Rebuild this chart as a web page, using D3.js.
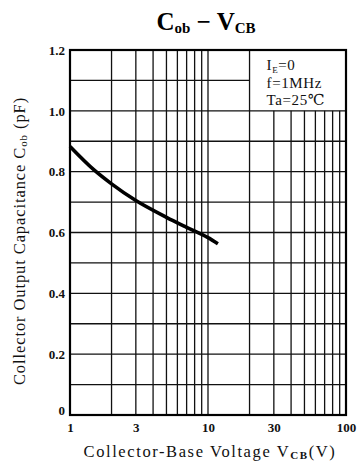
<!DOCTYPE html>
<html>
<head>
<meta charset="utf-8">
<script src="https://cdn.jsdelivr.net/npm/d3@7"></script>
<style>
  html, body { margin: 0; padding: 0; background: #fff; }
  svg { display: block; font-family: "Liberation Serif", "DejaVu Serif", serif; }
</style>
</head>
<body>
<div id="chart"></div>
<script>
// curve
const vcb = [1, 1.5, 2, 3, 5, 7, 10, 11.8];
const cob = [0.883, 0.805, 0.76, 0.705, 0.65, 0.617, 0.583, 0.563];

const xTicks = [1, 3, 10, 30, 100];
const yTicks = [0, 0.2, 0.4, 0.6, 0.8, 1.0, 1.2];
const xGrid = [2, 3, 4, 5, 6, 7, 8, 9, 10, 20, 30, 40, 50, 60, 70, 80, 90];
const yGrid = [0.1, 0.2, 0.3, 0.4, 0.5, 0.6, 0.7, 0.8, 0.9, 1.0, 1.1];
const conditions = [['I', 'E', '=0'], ['f=1MHz', '', ''], ['Ta=25℃', '', '']];

const W = 359, H = 467;
const margin = { top: 50, right: 13, bottom: 52, left: 70 };
const w = W - margin.left - margin.right;
const h = H - margin.top - margin.bottom;

const svg = d3.select('#chart').append('svg').attr('width', W).attr('height', H);
const g = svg.append('g').attr('transform', `translate(${margin.left},${margin.top})`);

const x = d3.scaleLog().domain([1, 100]).range([0, w]);
const y = d3.scaleLinear().domain([0, 1.2]).range([h, 0]);

// legend box sits in the top-right corner, grid is hidden behind it
const boxX = x(20), boxY = y(1.0);

g.selectAll('.vgrid').data(xGrid).join('line').attr('class', 'vgrid')
  .attr('x1', d => x(d)).attr('x2', d => x(d))
  .attr('y1', d => d > 20 ? boxY : 0).attr('y2', h)
  .attr('stroke', '#111').attr('stroke-width', 1.3);

g.selectAll('.hgrid').data(yGrid).join('line').attr('class', 'hgrid')
  .attr('x1', 0).attr('x2', d => d > 1.0 ? boxX : w)
  .attr('y1', d => y(d)).attr('y2', d => y(d))
  .attr('stroke', '#111').attr('stroke-width', 1.3);

// frame
g.append('rect').attr('width', w).attr('height', h)
  .attr('fill', 'none').attr('stroke', '#000').attr('stroke-width', 2.2);

// conditions text
const cond = g.append('g').attr('transform', `translate(${x(20) + 17},0)`)
  .style('font-size', '15px').style('fill', '#111');
conditions.forEach((c, i) => {
  const t = cond.append('text').attr('y', 20 + i * 17.5).style('letter-spacing', '0.6px');
  t.append('tspan').text(c[0]);
  if (c[1]) t.append('tspan').attr('dy', 3).style('font-size', '9px').text(c[1]);
  if (c[2]) t.append('tspan').attr('dy', c[1] ? -3 : 0).text(c[2]);
});

// curve
const line = d3.line().x(d => x(d[0])).y(d => y(d[1])).curve(d3.curveMonotoneX);
g.append('path').datum(vcb.map((v, i) => [v, cob[i]]))
  .attr('d', line).attr('fill', 'none').attr('stroke', '#000')
  .attr('stroke-width', 3.6).attr('stroke-linecap', 'butt');

// axes labels
g.append('g').attr('transform', `translate(0,${h})`)
  .call(d3.axisBottom(x).tickValues(xTicks).tickFormat(d3.format('d')).tickSize(0).tickPadding(8))
  .call(a => a.select('.domain').remove())
  .selectAll('text').style('font-family', '"Liberation Serif", serif')
  .style('font-size', '13px').style('font-weight', 'bold').style('fill', '#111');

g.append('g')
  .call(d3.axisLeft(y).tickValues(yTicks).tickFormat(d => d === 0 ? '0' : d3.format('.1f')(d)).tickSize(0).tickPadding(5))
  .call(a => a.select('.domain').remove())
  .call(a => a.selectAll('.tick').filter(d => d === 0).select('text').attr('dy', '-0.05em'))
  .selectAll('text').style('font-family', '"Liberation Serif", serif')
  .style('font-size', '13px').style('font-weight', 'bold').style('fill', '#111');

// title
const title = svg.append('text').attr('x', 206).attr('y', 30).attr('text-anchor', 'middle')
  .style('font-size', '25px').style('font-weight', 'bold').style('fill', '#000');
title.append('tspan').text('C');
title.append('tspan').attr('dy', 3).style('font-size', '15px').text('ob');
title.append('tspan').attr('dy', -3).text(' − V');
title.append('tspan').attr('dy', 3).style('font-size', '15px').text('CB');

// x title
const xt = svg.append('text').attr('x', 210).attr('y', 457).attr('text-anchor', 'middle')
  .style('font-size', '16.5px').style('letter-spacing', '1.6px').style('fill', '#111');
xt.append('tspan').text('Collector-Base Voltage V');
xt.append('tspan').attr('dy', 2).style('font-size', '11px').style('font-weight', 'bold').text('CB');
xt.append('tspan').attr('dy', -2).text('(V)');

// y title
const yt = svg.append('text').attr('transform', 'translate(25,241) rotate(-90)').attr('text-anchor', 'middle')
  .style('font-size', '16.5px').style('letter-spacing', '0.9px').style('fill', '#111');
yt.append('tspan').text('Collector Output Capacitance C');
yt.append('tspan').attr('dy', 2).style('font-size', '11px').text('ob');
yt.append('tspan').attr('dy', -2).text(' (pF)');
</script>
</body>
</html>
